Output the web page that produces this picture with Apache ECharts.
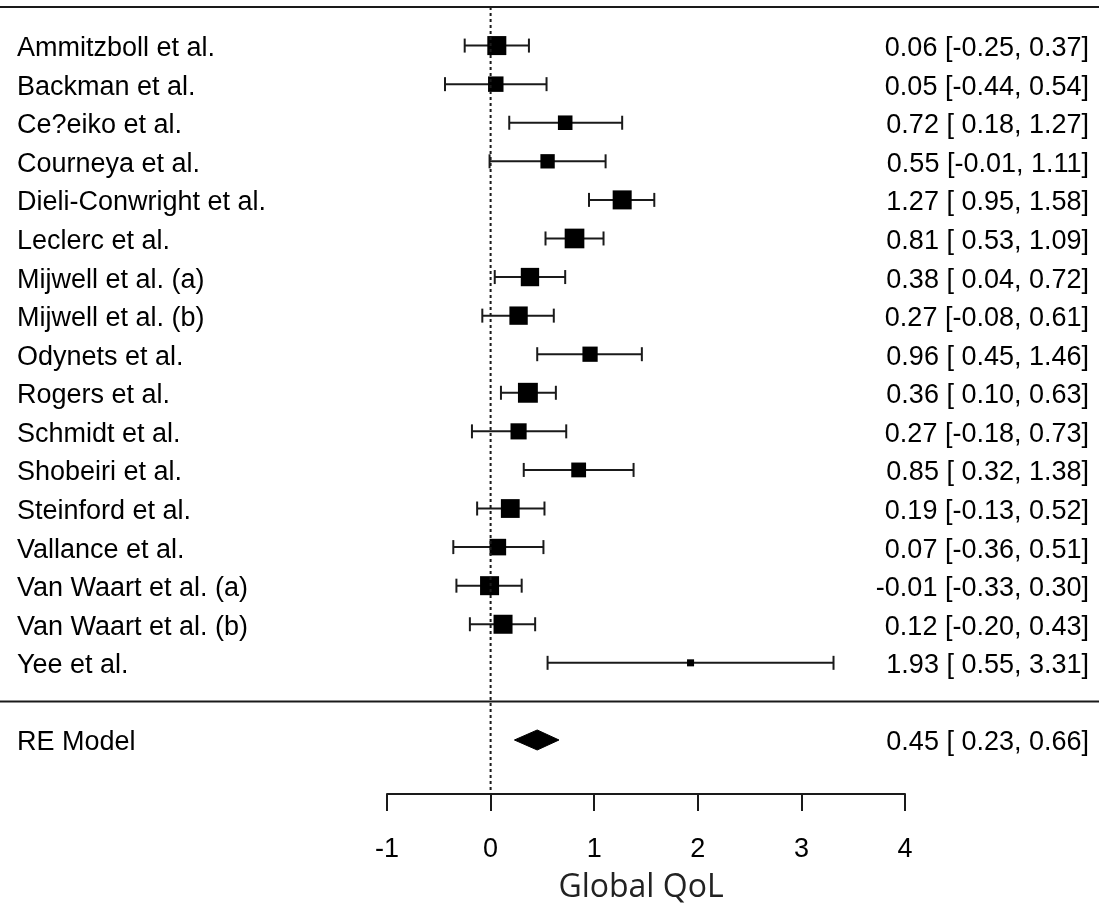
<!DOCTYPE html>
<html><head><meta charset="utf-8">
<script src="https://cdn.jsdelivr.net/npm/echarts@6/dist/echarts.min.js"></script>
<style>html,body{margin:0;padding:0;background:#fff}#c{width:1099px;height:906px}</style>
</head><body><div id="c"></div>
<script>
// ---- data ----
const studies = ['Ammitzboll et al.','Backman et al.','Ce?eiko et al.','Courneya et al.','Dieli-Conwright et al.','Leclerc et al.','Mijwell et al. (a)','Mijwell et al. (b)','Odynets et al.','Rogers et al.','Schmidt et al.','Shobeiri et al.','Steinford et al.','Vallance et al.','Van Waart et al. (a)','Van Waart et al. (b)','Yee et al.'];
const estimates = [0.06,0.05,0.72,0.55,1.27,0.81,0.38,0.27,0.96,0.36,0.27,0.85,0.19,0.07,-0.01,0.12,1.93];
const lower = [-0.25,-0.44,0.18,-0.01,0.95,0.53,0.04,-0.08,0.45,0.10,-0.18,0.32,-0.13,-0.36,-0.33,-0.20,0.55];
const upper = [0.37,0.54,1.27,1.11,1.58,1.09,0.72,0.61,1.46,0.63,0.73,1.38,0.52,0.51,0.30,0.43,3.31];
const weights = [6.9,5.3,4.9,4.8,6.9,7.2,6.6,6.6,5.2,7.3,5.6,5.0,6.8,5.8,6.9,6.9,1.5];
const summaryLabel = ['RE Model'];
const summaryEst = [0.45];
const summaryLower = [0.23];
const summaryUpper = [0.66];
const xTicks = [-1,0,1,2,3,4];
const xTitle = 'Global QoL';
const refValue = 0;

// ---- layout helpers ----
const k = studies.length;
const rows = studies.map((_, i) => k - i);     // metafor style rows k..1
const summaryRow = -1;
const yMin = -2.4, yMax = k + 1;
const FONT = "'Liberation Sans', Arial, sans-serif";
const INK = '#1a1a1a';

function fmt(v){ return v.toFixed(2); }
function fmtLo(v){ return v < 0 ? fmt(v) : ' ' + fmt(v); }
const leftLabels = {}, rightLabels = {};
rows.forEach((r, i) => {
  leftLabels[r] = studies[i];
  rightLabels[r] = fmt(estimates[i]) + ' [' + fmtLo(lower[i]) + ', ' + fmt(upper[i]) + ']';
});
leftLabels[summaryRow] = summaryLabel[0];
rightLabels[summaryRow] = fmt(summaryEst[0]) + ' [' + fmtLo(summaryLower[0]) + ', ' + fmt(summaryUpper[0]) + ']';
const labelRows = rows.concat([summaryRow]);

function markerSize(w){ return 3.7 + 2.22 * w; }

const studyData = rows.map((r, i) => [estimates[i], r, lower[i], upper[i], weights[i]]);
const summaryData = [[summaryEst[0], summaryRow, summaryLower[0], summaryUpper[0]]];

const labelRich = {t: {fontSize: 27, fontFamily: FONT, color: '#000', padding: [6, 0, 0, 0]}};

const chart = echarts.init(document.getElementById('c'), null, {renderer: 'canvas'});
const option = {
  animation: false,
  backgroundColor: '#fff',
  grid: [
    {left: 387, right: 194, top: 7, bottom: 112, containLabel: false, outerBoundsMode: 'none'},
    {left: 0, right: 0, top: 7, bottom: 112, containLabel: false, outerBoundsMode: 'none'}
  ],
  xAxis: [
    {
      type: 'value', gridIndex: 0, min: xTicks[0], max: xTicks[xTicks.length - 1], interval: 1,
      axisLine: {show: true, onZero: false, lineStyle: {color: INK, width: 2}},
      axisTick: {show: true, length: 17, lineStyle: {color: INK, width: 2}},
      axisLabel: {fontSize: 27, fontFamily: FONT, color: '#000', margin: 42, lineHeight: 27,
        formatter: v => String(v)},
      splitLine: {show: false},
      name: xTitle, nameLocation: 'middle', nameGap: 78,
      nameTextStyle: {fontSize: 32, fontFamily: "'Open Sans', sans-serif", color: '#222', padding: [0, 10, 0, 0]}
    },
    {type: 'value', gridIndex: 1, min: 0, max: 1, show: false}
  ],
  yAxis: [
    {
      type: 'value', gridIndex: 0, min: yMin, max: yMax, position: 'left',
      axisLine: {show: false}, axisTick: {show: false}, splitLine: {show: false},
      axisLabel: {show: true, customValues: labelRows, align: 'left', margin: 370,
        fontSize: 27, fontFamily: FONT, color: '#000', rich: labelRich,
        formatter: v => '{t|' + (leftLabels[v] || '') + '}'}
    },
    {
      type: 'value', gridIndex: 0, min: yMin, max: yMax, position: 'right',
      axisLine: {show: false}, axisTick: {show: false}, splitLine: {show: false},
      axisLabel: {show: true, customValues: labelRows, align: 'right', margin: 184,
        fontSize: 27, fontFamily: FONT, color: '#000', rich: labelRich,
        formatter: v => '{t|' + (rightLabels[v] || '') + '}'}
    },
    {type: 'value', gridIndex: 1, min: yMin, max: yMax, show: false}
  ],
  series: [
    // full-width frame lines (top and separator)
    {type: 'line', xAxisIndex: 1, yAxisIndex: 2, data: [[0, yMax], [1, yMax]], symbol: 'none', clip: false,
      lineStyle: {color: INK, width: 2.2}, silent: true},
    {type: 'line', xAxisIndex: 1, yAxisIndex: 2, data: [[0, 0], [1, 0]], symbol: 'none', clip: false,
      lineStyle: {color: INK, width: 2}, silent: true},
    // reference line at 0
    {type: 'line', xAxisIndex: 0, yAxisIndex: 0, data: [[refValue, yMax], [refValue, yMin]], symbol: 'none', clip: false,
      lineStyle: {color: INK, width: 2, type: [3, 3]}, silent: true},
    // study estimates with CIs
    {
      type: 'custom', xAxisIndex: 0, yAxisIndex: 0, clip: false, silent: true,
      data: studyData,
      encode: {x: [0, 2, 3], y: 1},
      renderItem: function(params, api){
        const y = api.value(1);
        const p = api.coord([api.value(0), y]);
        const pl = api.coord([api.value(2), y]);
        const ph = api.coord([api.value(3), y]);
        const s = markerSize(api.value(4));
        const cap = 7;
        const ls = {stroke: INK, lineWidth: 2};
        return {type: 'group', children: [
          {type: 'line', shape: {x1: pl[0], y1: p[1], x2: ph[0], y2: p[1]}, style: ls},
          {type: 'line', shape: {x1: pl[0], y1: p[1] - cap, x2: pl[0], y2: p[1] + cap}, style: ls},
          {type: 'line', shape: {x1: ph[0], y1: p[1] - cap, x2: ph[0], y2: p[1] + cap}, style: ls},
          {type: 'rect', shape: {x: p[0] - s / 2, y: p[1] - s / 2, width: s, height: s}, style: {fill: '#000'}}
        ]};
      }
    },
    // summary diamond
    {
      type: 'custom', xAxisIndex: 0, yAxisIndex: 0, clip: false, silent: true,
      data: summaryData,
      encode: {x: [0, 2, 3], y: 1},
      renderItem: function(params, api){
        const y = api.value(1);
        const p = api.coord([api.value(0), y]);
        const pl = api.coord([api.value(2), y]);
        const ph = api.coord([api.value(3), y]);
        const h = 10;
        return {type: 'polygon', shape: {points: [[pl[0], p[1]], [p[0], p[1] - h], [ph[0], p[1]], [p[0], p[1] + h]]},
          style: {fill: '#000', stroke: '#000', lineWidth: 1}};
      }
    }
  ]
};
chart.setOption(option);
</script>
</body></html>
